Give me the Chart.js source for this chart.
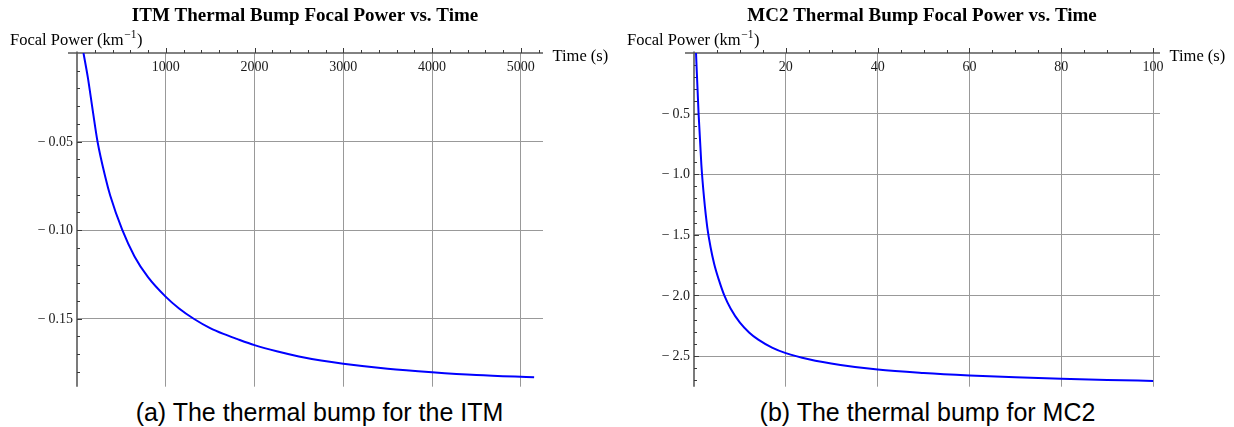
<!DOCTYPE html>
<html>
<head>
<meta charset="utf-8">
<title>Thermal bump focal power</title>
<script src="https://cdn.jsdelivr.net/npm/chart.js@4.4.1/dist/chart.umd.min.js"></script>
<style>
  body { margin: 0; background: #fff; }
  #wrap { position: relative; width: 1234px; height: 427px; }
  .panel { position: absolute; top: 0; width: 617px; height: 427px; }
  .panel canvas { position: absolute; left: 0; top: 0; }
  .caption {
    position: absolute; top: 398px; left: 0; width: 617px;
    line-height: 25px; text-align: center; color: #000;
    font: 25px "Liberation Sans", Arial, sans-serif;
  }
</style>
</head>
<body>
<div id="wrap">
  <div class="panel" style="left:0">
    <canvas id="itmChart" width="617" height="395"></canvas>
    <div class="caption" style="padding-left:11px">(a) The thermal bump for the ITM</div>
  </div>
  <div class="panel" style="left:617px">
    <canvas id="mc2Chart" width="617" height="395"></canvas>
    <div class="caption" style="padding-left:2px">(b) The thermal bump for MC2</div>
  </div>
</div>
<script>
// ITM: time (s) and focal power (1/km)
var itmTime  = [73, 122, 178, 231, 321, 374, 509, 648, 800, 998, 1150, 1315, 1500, 1650, 1800, 2000, 2250, 2500, 2750, 3000, 3500, 4000, 4500, 5150];
var itmPower = [0, -0.0138, -0.0327, -0.05, -0.0705, -0.0805, -0.0998, -0.1149, -0.1266, -0.1376, -0.1443, -0.1501, -0.1554, -0.1587, -0.1615, -0.165, -0.1685, -0.1714, -0.1737, -0.1755, -0.1783, -0.1803, -0.1819, -0.1832];
var itmXTicks  = [1000, 2000, 3000, 4000, 5000];
var itmXLabels = ['1000', '2000', '3000', '4000', '5000'];
var itmYTicks  = [-0.05, -0.10, -0.15];
var itmYLabels = ['\u2212\u20090.05', '\u2212\u20090.10', '\u2212\u20090.15'];

// MC2: time (s) and focal power (1/km)
var mc2Time  = [0.44, 1.0, 1.6, 2.2, 2.9, 3.6, 4.4, 5.4, 6.6, 8, 10, 12, 14, 17, 20, 25, 31.9, 40, 50, 60, 70, 80, 90, 100];
var mc2Power = [0, -0.5, -0.92, -1.2, -1.44, -1.6, -1.74, -1.87, -2.0, -2.11, -2.225, -2.305, -2.365, -2.43, -2.476, -2.527, -2.574, -2.612, -2.64, -2.66, -2.675, -2.687, -2.697, -2.705];
var mc2XTicks  = [20, 40, 60, 80, 100];
var mc2XLabels = ['20', '40', '60', '80', '100'];
var mc2YTicks  = [-0.5, -1.0, -1.5, -2.0, -2.5];
var mc2YLabels = ['\u2212\u20090.5', '\u2212\u20091.0', '\u2212\u20091.5', '\u2212\u20092.0', '\u2212\u20092.5'];

var SERIF = '"Liberation Serif", "Times New Roman", serif';

function isMajor(list, v) {
  return list.some(function (t) { return Math.abs(t - v) < 1e-9; });
}

// axes through the origin with small inward ticks, plus titles and labels
var axesPlugin = {
  id: 'mmaAxes',
  beforeDatasetsDraw: function (chart, args, o) {
    var ctx = chart.ctx, area = chart.chartArea;
    var x = chart.scales.x, y = chart.scales.y;
    var x0 = x.getPixelForValue(0), y0 = y.getPixelForValue(0);
    ctx.save();
    ctx.strokeStyle = '#5a5a5a';
    ctx.lineWidth = 1.6;
    ctx.beginPath();
    ctx.moveTo(area.left - 9, y0); ctx.lineTo(area.right, y0);
    ctx.moveTo(x0, area.top - 1.5); ctx.lineTo(x0, area.bottom);
    ctx.stroke();

    ctx.lineWidth = 1;
    ctx.strokeStyle = '#3a3a3a';
    ctx.beginPath();
    for (var i = 1; i * o.xStep <= x.max; i++) {
      var v = i * o.xStep;
      var px = Math.round(x.getPixelForValue(v)) + 0.5;
      var len = isMajor(o.xTicks, v) ? 5 : 3;
      ctx.moveTo(px, y0); ctx.lineTo(px, y0 - len);
    }
    for (var j = 1; -j * o.yStep >= y.min; j++) {
      var w = -j * o.yStep;
      var py = Math.round(y.getPixelForValue(w)) + 0.5;
      var len2 = isMajor(o.yTicks, w) ? 5 : 3;
      ctx.moveTo(x0, py); ctx.lineTo(x0 + len2, py);
    }
    ctx.stroke();
    ctx.restore();
  },
  afterDraw: function (chart, args, o) {
    var ctx = chart.ctx, area = chart.chartArea;
    var x = chart.scales.x, y = chart.scales.y;
    var x0 = x.getPixelForValue(0), y0 = y.getPixelForValue(0);
    ctx.save();
    ctx.fillStyle = '#000';

    // title
    ctx.font = 'bold 19px ' + SERIF;
    ctx.textAlign = 'center';
    ctx.textBaseline = 'alphabetic';
    ctx.fillText(o.title, 305, 21);

    // vertical axis label with superscript
    ctx.textAlign = 'left';
    ctx.font = '16.5px ' + SERIF;
    var lx = 10, ly = 44.5;
    var head = 'Focal Power (km';
    ctx.fillText(head, lx, ly);
    lx += ctx.measureText(head).width;
    ctx.font = '11.5px ' + SERIF;
    ctx.fillText('\u22121', lx + 0.5, ly - 7);
    lx += ctx.measureText('\u22121').width + 1;
    ctx.font = '16.5px ' + SERIF;
    ctx.fillText(')', lx, ly);

    // horizontal axis label
    ctx.fillText('Time (s)', area.right + 9.5, y0 + 7.5);

    // tick labels
    ctx.font = '14px ' + SERIF;
    ctx.fillStyle = '#1a1a1a';
    ctx.textAlign = 'center';
    o.xTicks.forEach(function (v, k) {
      ctx.fillText(o.xLabels[k], x.getPixelForValue(v), y0 + 17.5);
    });
    ctx.textAlign = 'right';
    ctx.textBaseline = 'middle';
    o.yTicks.forEach(function (v, k) {
      ctx.fillText(o.yLabels[k], x0 - 4, y.getPixelForValue(v) + 0.5);
    });
    ctx.restore();
  }
};

function makeChart(id, times, powers, xMax, yMin, ax) {
  var pts = times.map(function (t, i) { return { x: t, y: powers[i] }; });
  return new Chart(document.getElementById(id), {
    type: 'scatter',
    data: {
      datasets: [{
        data: pts,
        showLine: true,
        borderColor: '#0000ff',
        borderWidth: 2,
        pointRadius: 0,
        cubicInterpolationMode: 'monotone',
        fill: false
      }]
    },
    options: {
      responsive: false,
      animation: false,
      events: [],
      layout: { padding: { left: 77, top: 53, right: 74, bottom: 8.3 } },
      scales: {
        x: {
          type: 'linear', position: 'top', min: 0, max: xMax,
          afterBuildTicks: function (s) { s.ticks = ax.xTicks.map(function (v) { return { value: v }; }); },
          ticks: { display: false },
          grid: { color: '#999999', lineWidth: 1, drawTicks: false },
          border: { display: false }
        },
        y: {
          type: 'linear', min: yMin, max: 0,
          afterBuildTicks: function (s) { s.ticks = ax.yTicks.map(function (v) { return { value: v }; }); },
          ticks: { display: false },
          grid: { color: '#999999', lineWidth: 1, drawTicks: false },
          border: { display: false }
        }
      },
      plugins: {
        legend: { display: false },
        tooltip: { enabled: false },
        mmaAxes: ax
      }
    },
    plugins: [axesPlugin]
  });
}

makeChart('itmChart', itmTime, itmPower, 5250, -0.1885, {
  title: 'ITM Thermal Bump Focal Power vs. Time',
  xTicks: itmXTicks, xLabels: itmXLabels, xStep: 200,
  yTicks: itmYTicks, yLabels: itmYLabels, yStep: 0.01
});

makeChart('mc2Chart', mc2Time, mc2Power, 101.5, -2.753, {
  title: 'MC2 Thermal Bump Focal Power vs. Time',
  xTicks: mc2XTicks, xLabels: mc2XLabels, xStep: 5,
  yTicks: mc2YTicks, yLabels: mc2YLabels, yStep: 0.1
});
</script>
</body>
</html>
